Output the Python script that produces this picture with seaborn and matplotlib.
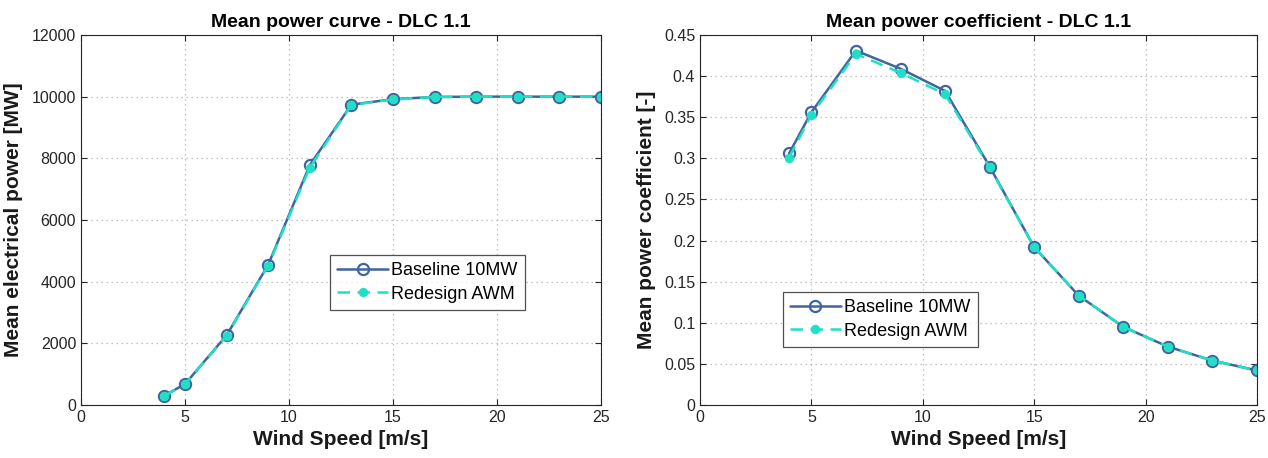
import numpy as np
import pandas as pd
import matplotlib
matplotlib.use("Agg")
import matplotlib.pyplot as plt
import seaborn as sns

wind_speed = [4, 5, 7, 9, 11, 13, 15, 17, 19, 21, 23, 25]
power_baseline = [300, 680, 2260, 4550, 7780, 9740, 9920, 9990, 10000, 10000, 10000, 10000]
power_redesign = [290, 670, 2250, 4520, 7700, 9730, 9910, 9990, 10000, 10000, 10000, 10000]
cp_baseline = [0.306, 0.356, 0.431, 0.409, 0.382, 0.290, 0.192, 0.133, 0.095, 0.071, 0.054, 0.042]
cp_redesign = [0.301, 0.353, 0.427, 0.404, 0.378, 0.289, 0.192, 0.133, 0.095, 0.071, 0.054, 0.042]
series_names = ["Baseline 10MW", "Redesign AWM"]

sns.set_theme(style="white")
plt.rcParams['font.family'] = ['Liberation Sans', 'DejaVu Sans']

fig = plt.figure(figsize=(12.68, 4.58), dpi=100)
ax1 = fig.add_axes([81/1268, 1-405/458, 520/1268, 370/458])
ax2 = fig.add_axes([700/1268, 1-405/458, 557/1268, 370/458])

c_base = "#3f64a0"
c_red = "#1fe0c4"

def draw(ax, yb, yr, title, ylabel, ylim, yticks, legend_loc):
    df = pd.DataFrame({"x": wind_speed + wind_speed, "y": list(yb) + list(yr),
                       "s": [series_names[0]] * len(wind_speed) + [series_names[1]] * len(wind_speed)})
    sns.lineplot(data=df[df.s == series_names[0]], x="x", y="y", ax=ax, color=c_base, lw=1.8,
                 marker="o", markersize=8, markerfacecolor="none", markeredgecolor=c_base,
                 markeredgewidth=1.6, label=series_names[0])
    sns.lineplot(data=df[df.s == series_names[1]], x="x", y="y", ax=ax, color=c_red, lw=1.8,
                 linestyle=(0, (5, 3)), marker="o", markersize=6, markerfacecolor=c_red,
                 markeredgecolor=c_red, label=series_names[1])
    ax.set_xlim(0, 25)
    ax.set_ylim(*ylim)
    ax.set_xticks([0, 5, 10, 15, 20, 25])
    ax.set_yticks(yticks)
    ax.set_yticklabels([f"{t:g}" for t in yticks])
    ax.grid(True, linestyle=(0, (1, 3)), color="#b0b0b0", lw=0.9)
    ax.tick_params(direction="in", length=4, labelsize=11.5, colors="#262626", width=0.8,
                   top=True, right=True, bottom=True, left=True)
    for sp in ax.spines.values():
        sp.set_color("#262626")
        sp.set_linewidth(0.8)
    ax.set_title(title, fontsize=14, fontweight="bold", pad=6, color="black")
    ax.set_xlabel("Wind Speed [m/s]", fontsize=15, fontweight="bold", labelpad=4, color="#1a1a1a")
    ax.set_ylabel(ylabel, fontsize=15, fontweight="bold", labelpad=6, color="#1a1a1a")
    leg = ax.legend(loc="lower left", bbox_to_anchor=legend_loc, fontsize=13, frameon=True,
                    fancybox=False, edgecolor="#262626", borderpad=0.4, handlelength=2.8,
                    handletextpad=0.2, labelspacing=0.35, borderaxespad=0)
    leg.get_frame().set_linewidth(0.9)
    for t in leg.get_texts():
        t.set_color("black")

draw(ax1, power_baseline, power_redesign, "Mean power curve - DLC 1.1",
     "Mean electrical power [MW]", (0, 12000), list(range(0, 12001, 2000)), (0.479, 0.257))
draw(ax2, cp_baseline, cp_redesign, "Mean power coefficient - DLC 1.1",
     "Mean power coefficient [-]", (0, 0.45), [round(0.05 * i, 2) for i in range(10)], (0.149, 0.157))

fig.savefig("out.png", dpi=100)
